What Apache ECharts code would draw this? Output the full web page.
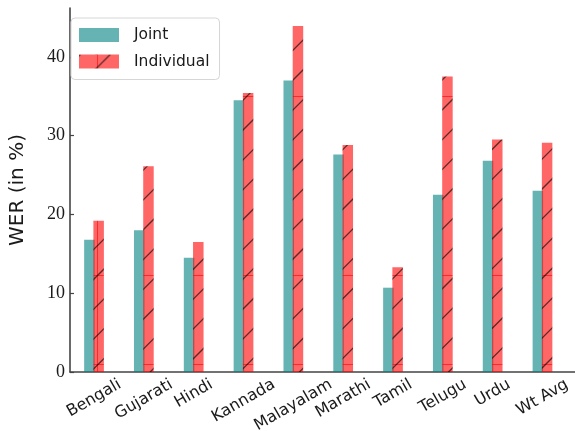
<!DOCTYPE html>
<html>
<head>
<meta charset="utf-8">
<script src="https://cdn.jsdelivr.net/npm/echarts@6/dist/echarts.min.js"></script>
<style>
  html, body { margin: 0; padding: 0; background: #fff; }
  #chart { width: 575px; height: 431px; }
</style>
</head>
<body>
<div id="chart"></div>
<script>
// Word error rate per language: joint model vs. individual models
const categories = ['Bengali', 'Gujarati', 'Hindi', 'Kannada', 'Malayalam', 'Marathi', 'Tamil', 'Telugu', 'Urdu', 'Wt Avg'];
const jointWER = [16.8, 18.0, 14.5, 34.5, 37.0, 27.6, 10.7, 22.5, 26.8, 23.0];
const individualWER = [19.2, 26.1, 16.5, 35.4, 43.9, 28.8, 13.3, 37.5, 29.5, 29.1];
const yTicks = [0, 10, 20, 30, 40];
const seriesNames = ['Joint', 'Individual'];

const labelFont = '16px "DejaVu Sans"';
const yMax = 46.2;

// Hatch texture for the "Individual" bars: translucent red fill, "/" strokes
// and the faint seams where hatch tiles overlap. Everything is laid out in
// page coordinates; (ox, oy) is the origin of the element that paints it.
function makeHatchTile(ox, oy, rowSeams) {
  const w = 179, h = 432, step = w / 6;
  const mod = (a, m) => ((a % m) + m) % m;
  const c = document.createElement('canvas');
  c.width = w; c.height = h;
  const ctx = c.getContext('2d');
  ctx.fillStyle = 'rgba(255,0,0,0.6)';
  ctx.fillRect(0, 0, w, h);
  ctx.fillRect(Math.round(mod(97 - ox, w)), 0, 1, h);
  rowSeams.forEach(y => ctx.fillRect(0, Math.round(y - oy), w, 1));
  ctx.strokeStyle = 'rgba(0,0,0,0.62)';
  ctx.lineWidth = 1.3;
  ctx.beginPath();
  const base = mod(373 - ox - oy, step);
  for (let cst = base - step; cst < w + h + step; cst += step) {
    ctx.moveTo(cst + 5, -5);
    ctx.lineTo(-5, cst + 5);
  }
  ctx.stroke();
  return c;
}

const measureCtx = document.createElement('canvas').getContext('2d');
measureCtx.font = labelFont;

const chart = echarts.init(document.getElementById('chart'), null, { renderer: 'canvas' });

const axisColor = '#444';
const hatchFill = { image: makeHatchTile(0, 0, [96, 275, 364]), repeat: 'repeat' };
const legendHatchFill = { image: makeHatchTile(79, 54, []), repeat: 'repeat' };

chart.setOption({
  animation: false,
  backgroundColor: '#fff',
  grid: [
    // frame: spines and y ticks
    { left: 61, right: 0, top: 8, bottom: 59 },
    // bar groups
    { left: 69.1, right: 7.6, top: 8, bottom: 59 }
  ],
  legend: {
    data: [
      { name: seriesNames[0] },
      { name: seriesNames[1], itemStyle: { color: legendHatchFill } }
    ],
    orient: 'vertical',
    left: 71,
    top: 18,
    padding: [9, 10, 10, 8],
    itemWidth: 40,
    itemHeight: 14,
    itemGap: 10.5,
    icon: 'rect',
    backgroundColor: '#fff',
    borderColor: '#d6d6d6',
    borderWidth: 1,
    borderRadius: 4,
    textStyle: {
      fontFamily: 'DejaVu Sans',
      fontSize: 15.5,
      color: '#1a1a1a',
      padding: [0, 0, 0, 10]
    }
  },
  xAxis: [
    {
      gridIndex: 0,
      type: 'value',
      min: 0,
      max: 1,
      splitLine: { show: false },
      axisLine: { show: true, onZero: false, lineStyle: { color: axisColor, width: 1.6 } },
      axisTick: { show: false },
      axisLabel: { show: false }
    },
    {
      gridIndex: 1,
      type: 'category',
      data: categories,
      axisLine: { show: false },
      axisTick: { show: false },
      axisLabel: { show: false },
      splitLine: { show: false }
    }
  ],
  yAxis: [
    {
      gridIndex: 0,
      type: 'value',
      min: 0,
      max: yMax,
      name: 'WER (in %)',
      nameLocation: 'middle',
      nameGap: 42,
      nameTextStyle: { fontFamily: 'DejaVu Sans', fontSize: 20, color: '#1a1a1a' },
      splitLine: { show: false },
      axisLine: { show: true, onZero: false, lineStyle: { color: axisColor, width: 1.6 } },
      axisTick: {
        show: true,
        inside: true,
        length: 4,
        customValues: yTicks,
        lineStyle: { color: axisColor, width: 1.2 }
      },
      axisLabel: {
        customValues: yTicks,
        margin: 5,
        fontFamily: 'Liberation Serif',
        fontSize: 18,
        color: '#1a1a1a'
      }
    },
    {
      gridIndex: 1,
      type: 'value',
      min: 0,
      max: yMax,
      show: false
    }
  ],
  series: [
    {
      name: seriesNames[0],
      type: 'bar',
      xAxisIndex: 1,
      yAxisIndex: 1,
      barWidth: 10.5,
      barGap: '-12%',
      itemStyle: { color: 'rgba(0,128,128,0.6)' },
      data: jointWER
    },
    {
      name: seriesNames[1],
      type: 'bar',
      xAxisIndex: 1,
      yAxisIndex: 1,
      barWidth: 10.5,
      barGap: '-12%',
      itemStyle: { color: hatchFill },
      data: individualWER
    },
    {
      // rotated category names, centred under each group
      type: 'custom',
      name: 'categoryLabels',
      xAxisIndex: 1,
      yAxisIndex: 1,
      silent: true,
      clip: false,
      data: categories.map((c, i) => [i, 0]),
      encode: { x: 0, y: 1 },
      renderItem: function (params, api) {
        const i = api.value(0);
        const p = api.coord([i, 0]);
        const text = categories[i];
        const w = measureCtx.measureText(text).width;
        const h = 17;
        const boxH = w * 0.5 + h * 0.866;
        return {
          type: 'text',
          x: p[0],
          y: p[1] + 4 + boxH / 2,
          rotation: Math.PI / 6,
          style: {
            text: text,
            font: labelFont,
            fill: '#1a1a1a',
            align: 'center',
            verticalAlign: 'middle'
          }
        };
      }
    }
  ]
});
</script>
</body>
</html>
